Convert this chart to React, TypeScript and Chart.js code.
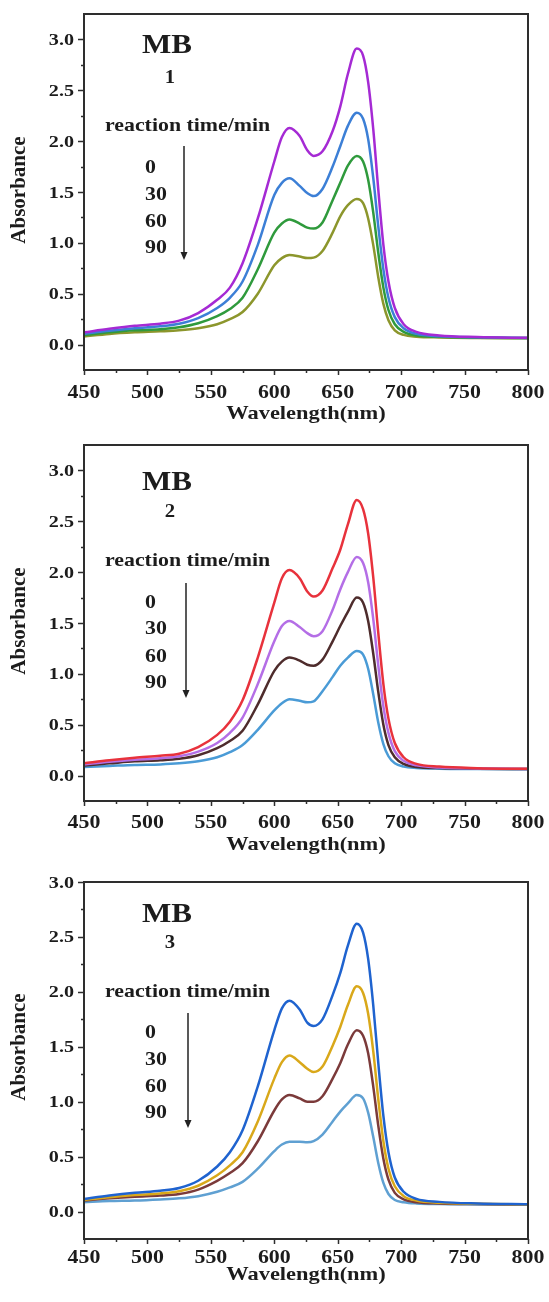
import React, { useEffect, useRef } from 'react';
import { Chart, registerables } from 'chart.js';

Chart.register(...registerables);

// Shared wavelength grid (nm) for every spectrum
const wavelengths = [
  450, 470, 490, 510, 525, 540, 555, 565, 575, 587, 600, 606, 612, 620, 626, 631, 638,
  646, 652, 658, 665, 670, 674, 678, 682, 686, 690, 695, 702, 712, 730, 760, 800,
];

const reactionTimes = ['0', '30', '60', '90'];

const xTickValues = [450, 500, 550, 600, 650, 700, 750, 800];
const yTickValues = [0, 0.5, 1.0, 1.5, 2.0, 2.5, 3.0];

// MB 1 absorbance
const mb1_t0 = [0.12, 0.155, 0.185, 0.205, 0.235, 0.31, 0.44, 0.56, 0.8, 1.24, 1.8, 2.04, 2.13, 2.05, 1.91, 1.855, 1.9, 2.1, 2.34, 2.66, 2.91, 2.84, 2.58, 2.12, 1.52, 0.98, 0.62, 0.36, 0.2, 0.125, 0.09, 0.074, 0.066];
const mb1_t30 = [0.105, 0.135, 0.16, 0.18, 0.205, 0.26, 0.36, 0.46, 0.62, 0.98, 1.47, 1.59, 1.635, 1.56, 1.49, 1.46, 1.53, 1.75, 1.95, 2.15, 2.28, 2.22, 2.02, 1.64, 1.16, 0.74, 0.46, 0.27, 0.16, 0.105, 0.082, 0.071, 0.065];
const mb1_t60 = [0.093, 0.12, 0.14, 0.15, 0.17, 0.21, 0.28, 0.35, 0.46, 0.74, 1.1, 1.19, 1.23, 1.19, 1.15, 1.14, 1.2, 1.42, 1.59, 1.76, 1.855, 1.8, 1.62, 1.3, 0.9, 0.56, 0.34, 0.2, 0.125, 0.09, 0.076, 0.068, 0.064];
const mb1_t90 = [0.08, 0.105, 0.12, 0.13, 0.14, 0.16, 0.2, 0.25, 0.32, 0.5, 0.78, 0.85, 0.88, 0.865, 0.85, 0.855, 0.92, 1.1, 1.26, 1.37, 1.43, 1.39, 1.24, 0.98, 0.66, 0.4, 0.24, 0.14, 0.095, 0.078, 0.07, 0.065, 0.062];

// MB 2 absorbance
const mb2_t0 = [0.12, 0.15, 0.175, 0.195, 0.215, 0.28, 0.4, 0.53, 0.74, 1.16, 1.7, 1.94, 2.02, 1.94, 1.81, 1.76, 1.82, 2.04, 2.22, 2.47, 2.71, 2.62, 2.38, 1.95, 1.4, 0.9, 0.56, 0.32, 0.18, 0.115, 0.088, 0.073, 0.066];
const mb2_t30 = [0.11, 0.135, 0.155, 0.17, 0.19, 0.235, 0.32, 0.42, 0.57, 0.9, 1.32, 1.47, 1.52, 1.46, 1.4, 1.37, 1.42, 1.63, 1.83, 2.0, 2.15, 2.09, 1.9, 1.54, 1.08, 0.68, 0.42, 0.24, 0.145, 0.1, 0.08, 0.07, 0.065];
const mb2_t60 = [0.1, 0.12, 0.14, 0.15, 0.165, 0.2, 0.27, 0.34, 0.44, 0.7, 1.03, 1.12, 1.16, 1.13, 1.09, 1.08, 1.14, 1.32, 1.47, 1.61, 1.75, 1.7, 1.52, 1.2, 0.82, 0.5, 0.3, 0.18, 0.115, 0.085, 0.074, 0.068, 0.064];
const mb2_t90 = [0.085, 0.095, 0.105, 0.11, 0.12, 0.14, 0.18, 0.23, 0.3, 0.45, 0.64, 0.71, 0.75, 0.735, 0.72, 0.73, 0.83, 0.97, 1.08, 1.16, 1.225, 1.19, 1.05, 0.8, 0.52, 0.31, 0.19, 0.12, 0.088, 0.075, 0.068, 0.065, 0.062];

// MB 3 absorbance
const mb3_t0 = [0.115, 0.145, 0.17, 0.19, 0.215, 0.28, 0.41, 0.54, 0.74, 1.14, 1.65, 1.85, 1.92, 1.84, 1.72, 1.69, 1.75, 1.97, 2.17, 2.42, 2.62, 2.54, 2.3, 1.88, 1.35, 0.87, 0.54, 0.31, 0.18, 0.115, 0.088, 0.073, 0.066];
const mb3_t30 = [0.105, 0.13, 0.15, 0.165, 0.185, 0.235, 0.33, 0.42, 0.54, 0.82, 1.21, 1.36, 1.42, 1.36, 1.3, 1.27, 1.32, 1.51, 1.68, 1.88, 2.05, 1.99, 1.8, 1.46, 1.02, 0.64, 0.39, 0.23, 0.14, 0.1, 0.08, 0.07, 0.065];
const mb3_t60 = [0.1, 0.12, 0.135, 0.145, 0.16, 0.2, 0.28, 0.35, 0.44, 0.64, 0.92, 1.02, 1.06, 1.03, 1.0, 1.0, 1.05, 1.21, 1.35, 1.52, 1.65, 1.6, 1.44, 1.14, 0.78, 0.48, 0.29, 0.17, 0.11, 0.085, 0.074, 0.068, 0.064];
const mb3_t90 = [0.085, 0.095, 0.1, 0.11, 0.12, 0.14, 0.18, 0.22, 0.27, 0.39, 0.55, 0.61, 0.635, 0.635, 0.63, 0.64, 0.7, 0.82, 0.91, 0.985, 1.06, 1.03, 0.9, 0.68, 0.44, 0.26, 0.16, 0.105, 0.085, 0.074, 0.068, 0.065, 0.062];

const mb1Colors = ['#a52ad4', '#3c7fd6', '#2f9a3c', '#8c962c'];
const mb2Colors = ['#e8323c', '#b46ee6', '#4e2c2c', '#4a9bd6'];
const mb3Colors = ['#1f63cf', '#d9a81a', '#7b3a3a', '#5fa0d2'];

const FONT = '"Liberation Serif", "Times New Roman", serif';
const INK = '#1c1c1c';
const STRETCH = 1.15;

type Panel = {
  id: string;
  top: number;
  height: number;
  areaTop: number;
  areaBottom: number;
  yMax: number;
  series: number[][];
  colors: string[];
  subscript: string;
  mbBase: number;
  subBase: number;
  captionBase: number;
  numberBases: number[];
  arrowX: number;
  arrowTop: number;
  arrowBottom: number;
  yTitleY: number;
  xTitleY: number;
  xLabelY: number;
};

const panels: Panel[] = [
  {
    id: 'mb1', top: 0, height: 430, areaTop: 14, areaBottom: 370, yMax: 3.25,
    series: [mb1_t0, mb1_t30, mb1_t60, mb1_t90], colors: mb1Colors, subscript: '1',
    mbBase: 53, subBase: 83, captionBase: 131, numberBases: [173, 200, 227, 253],
    arrowX: 184, arrowTop: 146, arrowBottom: 260, yTitleY: 190, xTitleY: 414, xLabelY: 393,
  },
  {
    id: 'mb2', top: 430, height: 430, areaTop: 15, areaBottom: 371, yMax: 3.25,
    series: [mb2_t0, mb2_t30, mb2_t60, mb2_t90], colors: mb2Colors, subscript: '2',
    mbBase: 60, subBase: 87, captionBase: 136, numberBases: [178, 204, 232, 258],
    arrowX: 186, arrowTop: 153, arrowBottom: 268, yTitleY: 191, xTitleY: 415, xLabelY: 393,
  },
  {
    id: 'mb3', top: 860, height: 442, areaTop: 22, areaBottom: 379, yMax: 3.0,
    series: [mb3_t0, mb3_t30, mb3_t60, mb3_t90], colors: mb3Colors, subscript: '3',
    mbBase: 62, subBase: 88, captionBase: 137, numberBases: [178, 205, 232, 258],
    arrowX: 188, arrowTop: 153, arrowBottom: 268, yTitleY: 187, xTitleY: 415, xLabelY: 398,
  },
];

function drawText(
  ctx: CanvasRenderingContext2D,
  text: string,
  x: number,
  y: number,
  size: number,
  align: CanvasTextAlign,
  baseline: CanvasTextBaseline,
  sx = STRETCH,
) {
  ctx.save();
  ctx.font = `bold ${size}px ${FONT}`;
  ctx.fillStyle = INK;
  ctx.textAlign = align;
  ctx.textBaseline = baseline;
  ctx.translate(x, y);
  ctx.scale(sx, 1);
  ctx.fillText(text, 0, 0);
  ctx.restore();
}

function makeDecor(panel: Panel) {
  return {
    id: 'panelDecor_' + panel.id,
    afterDraw(chart: any) {
      const ctx: CanvasRenderingContext2D = chart.ctx;
      const a = chart.chartArea;
      const xs = chart.scales.x;
      const ys = chart.scales.y;
      ctx.save();

      // frame
      ctx.strokeStyle = '#2e2e2e';
      ctx.lineWidth = 2;
      ctx.strokeRect(a.left, a.top, a.right - a.left, a.bottom - a.top);

      // major and minor ticks, pointing outward
      ctx.lineWidth = 1.5;
      ctx.beginPath();
      const xt = xs.ticks.map((t: any) => t.value);
      xt.forEach((v: number, i: number) => {
        const px = Math.round(xs.getPixelForValue(v)) + 0.5;
        ctx.moveTo(px, a.bottom);
        ctx.lineTo(px, a.bottom + 5);
        if (i < xt.length - 1) {
          const mx = Math.round(xs.getPixelForValue((v + xt[i + 1]) / 2)) + 0.5;
          ctx.moveTo(mx, a.bottom);
          ctx.lineTo(mx, a.bottom + 3);
        }
      });
      const yt = ys.ticks.map((t: any) => t.value);
      yt.forEach((v: number, i: number) => {
        const py = Math.round(ys.getPixelForValue(v)) + 0.5;
        ctx.moveTo(a.left, py);
        ctx.lineTo(a.left - 6, py);
        if (i < yt.length - 1) {
          const my = Math.round(ys.getPixelForValue((v + yt[i + 1]) / 2)) + 0.5;
          ctx.moveTo(a.left, my);
          ctx.lineTo(a.left - 3, my);
        }
      });
      ctx.stroke();

      // tick labels
      xt.forEach((v: number) => {
        drawText(ctx, String(v), xs.getPixelForValue(v), panel.xLabelY, 19, 'center', 'middle');
      });
      yt.forEach((v: number) => {
        drawText(ctx, v.toFixed(1), a.left - 10, ys.getPixelForValue(v) + 1, 17.5, 'right', 'middle');
      });

      // axis titles
      drawText(ctx, 'Wavelength(nm)', (a.left + a.right) / 2, panel.xTitleY, 19.5, 'center', 'middle');
      ctx.save();
      ctx.translate(20, panel.yTitleY);
      ctx.rotate(-Math.PI / 2);
      ctx.font = `bold 20px ${FONT}`;
      ctx.fillStyle = INK;
      ctx.textAlign = 'center';
      ctx.textBaseline = 'middle';
      ctx.scale(1.05, 1);
      ctx.fillText('Absorbance', 0, 0);
      ctx.restore();

      // sample label
      drawText(ctx, 'MB', 142, panel.mbBase, 27, 'left', 'alphabetic');
      drawText(ctx, panel.subscript, 170, panel.subBase, 18, 'center', 'alphabetic');

      // reaction time caption and entries
      drawText(ctx, 'reaction time/min', 105, panel.captionBase, 19, 'left', 'alphabetic');
      reactionTimes.forEach((t, i) => {
        drawText(ctx, t, 145, panel.numberBases[i], 19, 'left', 'alphabetic');
      });

      // downward arrow
      ctx.strokeStyle = '#222';
      ctx.fillStyle = '#222';
      ctx.lineWidth = 1.5;
      ctx.beginPath();
      ctx.moveTo(panel.arrowX, panel.arrowTop);
      ctx.lineTo(panel.arrowX, panel.arrowBottom - 6);
      ctx.stroke();
      ctx.beginPath();
      ctx.moveTo(panel.arrowX - 3.5, panel.arrowBottom - 8);
      ctx.lineTo(panel.arrowX + 3.5, panel.arrowBottom - 8);
      ctx.lineTo(panel.arrowX, panel.arrowBottom);
      ctx.closePath();
      ctx.fill();

      ctx.restore();
    },
  };
}

function SpectrumPanel({ panel }: { panel: Panel }) {
  const ref = useRef<HTMLCanvasElement | null>(null);

  useEffect(() => {
    if (!ref.current) return;
    const datasets = panel.series.map((values, i) => ({
      label: reactionTimes[i] + ' min',
      data: wavelengths.map((w, j) => ({ x: w, y: values[j] })),
      borderColor: panel.colors[i],
      backgroundColor: panel.colors[i],
      borderWidth: 2.5,
      pointRadius: 0,
      fill: false,
      cubicInterpolationMode: 'monotone' as const,
    }));

    const chart = new Chart(ref.current, {
      type: 'line',
      data: { datasets },
      options: {
        animation: false,
        responsive: false,
        maintainAspectRatio: false,
        devicePixelRatio: 1,
        events: [],
        layout: { padding: { left: 0, right: 21, top: panel.areaTop, bottom: 0 } },
        plugins: { legend: { display: false }, tooltip: { enabled: false } },
        scales: {
          x: {
            type: 'linear',
            min: 450,
            max: 800,
            ticks: { display: false },
            grid: { display: false },
            border: { display: false },
            afterBuildTicks: (s: any) => {
              s.ticks = xTickValues.map((value) => ({ value }));
            },
            afterFit: (s: any) => {
              s.height = panel.height - panel.areaBottom;
            },
          },
          y: {
            type: 'linear',
            min: -0.25,
            max: panel.yMax,
            ticks: { display: false },
            grid: { display: false },
            border: { display: false },
            afterBuildTicks: (s: any) => {
              s.ticks = yTickValues.map((value) => ({ value }));
            },
            afterFit: (s: any) => {
              s.width = 84;
            },
          },
        },
      },
      plugins: [makeDecor(panel)],
    } as any);

    return () => chart.destroy();
  }, [panel]);

  return (
    <canvas
      ref={ref}
      width={549}
      height={panel.height}
      style={{ position: 'absolute', left: 0, top: panel.top, width: 549, height: panel.height, display: 'block' }}
    />
  );
}

export default function App() {
  return (
    <div
      style={{
        position: 'absolute',
        left: 0,
        top: 0,
        width: 549,
        height: 1302,
        background: '#ffffff',
        overflow: 'hidden',
      }}
    >
      {panels.map((p) => (
        <SpectrumPanel key={p.id} panel={p} />
      ))}
    </div>
  );
}
